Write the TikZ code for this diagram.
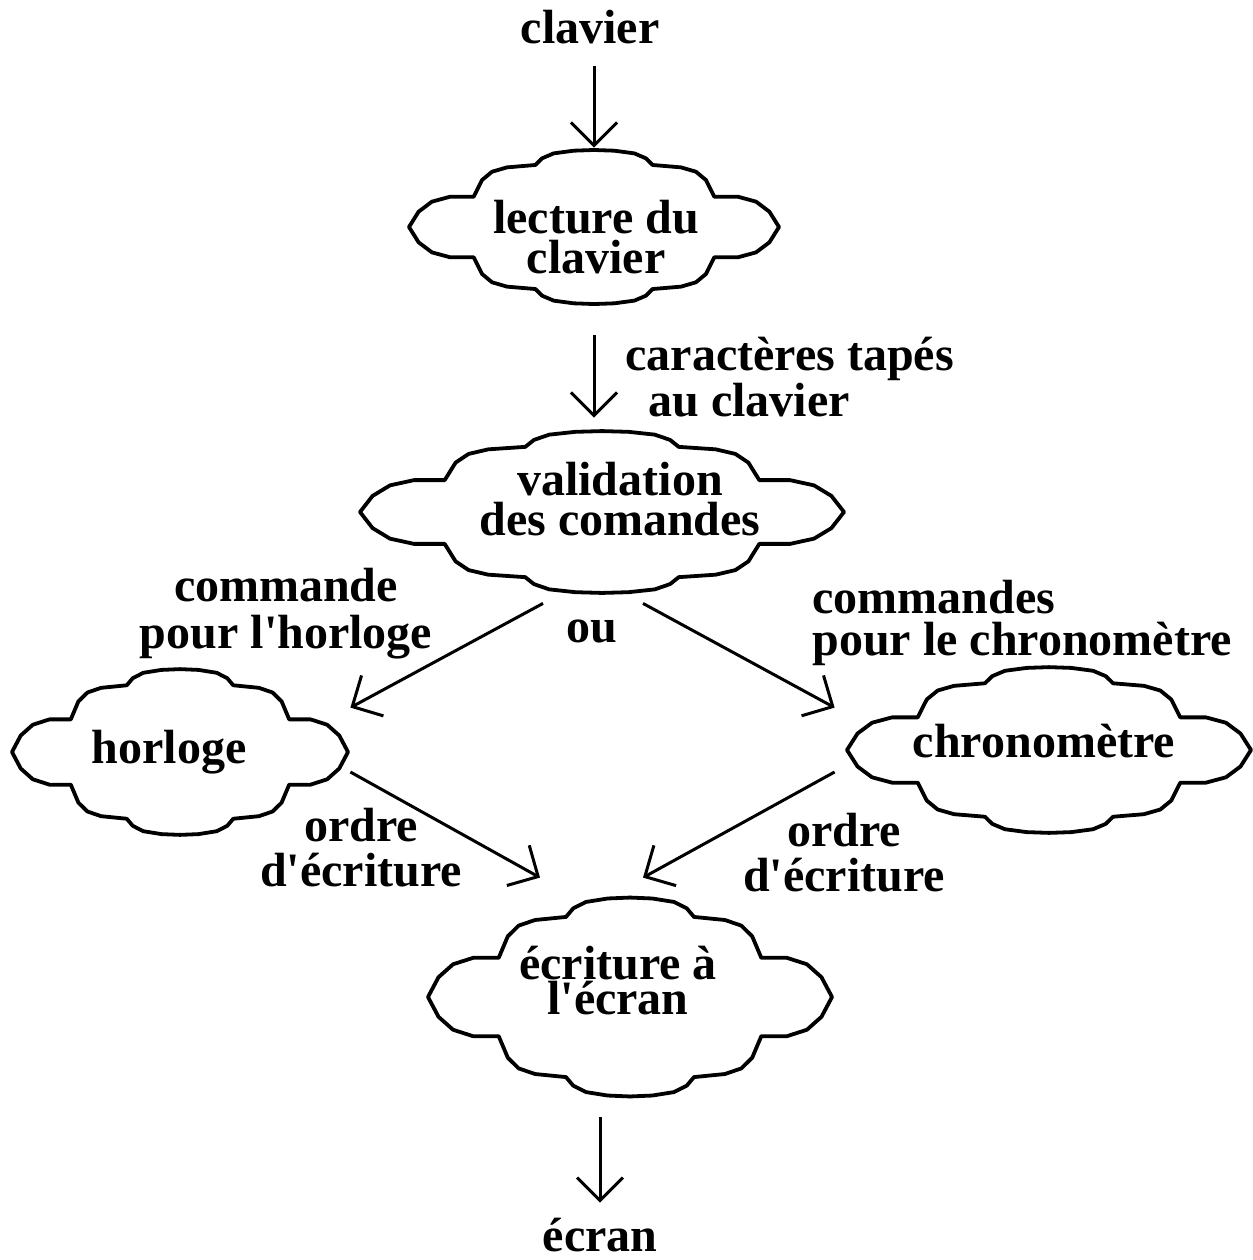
\documentclass[tikz,border=0pt]{standalone}
\usepackage{fontspec}
\setmainfont{Liberation Serif}[Ligatures=TeXOff]
\usetikzlibrary{arrows.meta}

% nuage : nom, x, y, demi-largeur, demi-hauteur, decalage du texte, texte
\newcommand{\nuage}[7]{%
  \node[boite, minimum width=#4pt, minimum height=#5pt] (#1) at (#2,#3) {};
  \foreach \sx/\sy in {1/1,-1/1,1/-1,-1/-1}
    \draw[contour, shift={(#2,#3)}, xscale={(\sx)*#4}, yscale={-(\sy)*#5}]
      plot coordinates {(-1,0) (-0.948,0.194) (-0.876,0.321) (-0.777,0.384)
        (-0.650,0.384) (-0.605,0.595) (-0.551,0.700) (-0.470,0.755)
        (-0.317,0.785) (-0.281,0.869) (-0.218,0.932) (-0.110,0.966) (0,0.975)};
  \node[texte] (#1-t) at ([shift={(#6)}]#1.center) {#7};
}

\begin{document}
\begin{tikzpicture}[x=0.5pt, y=-0.5pt, >={Straight Barb[length=11.5pt,width=23pt]},
    font=\bfseries\fontsize{24}{20}\selectfont]
    \tikzset{boite/.style={rectangle, inner sep=0pt},
             texte/.style={align=center, inner sep=0pt},
             contour/.style={line width=1.9pt, line join=round, line cap=round},
             fleche/.style={->, line width=1.5pt}}
    \useasboundingbox (0,0) rectangle (1253,1260);

    \node[texte] (clavier) at (590,27) {clavier};
    \nuage{lecture}{594}{227}{185}{79}{2,10}{lecture du\\clavier}
    \nuage{validation}{602}{512}{242}{83}{18,-13}{validation\\des comandes}
    \nuage{horloge}{180}{752}{168}{85}{-11,0}{horloge}
    \nuage{chrono}{1049}{750}{202}{85}{-5,-9}{chronomètre}
    \nuage{ecriture}{630}{997}{202}{102}{-12,-16}{écriture à\\[-2.5pt]l'écran}
    \node[texte] (ecran) at (600,1235) {écran};

    % etiquettes des fleches
    \node[texte, align=left, anchor=north west] (tapes) at (625,337)
        {caractères tapés\\\hspace*{11.5pt}au clavier};
    \node[texte] (cmd-horloge) at (286,614) {commande\\[3.5pt]pour l'horloge};
    \node[texte] (ou) at (592,631) {ou};
    \node[texte, align=left, anchor=north west] (cmd-chrono) at (812,580)
        {commandes\\[1pt]pour le chronomètre};
    \node[texte] (ordre-h) at (361,848) {ordre\\[2.5pt]d'écriture};
    \node[texte] (ordre-c) at (844,853) {ordre\\[2.5pt]d'écriture};

    \path[fleche]
      (lecture.north |- clavier.south) edge [shorten <=11pt] (lecture.north)
      (lecture.south) edge [shorten <=14.5pt, shorten >=5.5pt] (lecture.south |- validation.north)
      ([shift={(-59,8)}]validation.south) edge ([shift={(2,41)}]horloge.north east)
      ([shift={(41,8)}]validation.south)  edge ([shift={(-12,43)}]chrono.north west)
      ([shift={(2,20)}]horloge.east)      edge ([shift={(-90,-17)}]ecriture.north)
      ([shift={(-12,22)}]chrono.west)     edge ([shift={(13,-17)}]ecriture.north)
      (ecran.north |- ecriture.south) edge [shorten <=9pt, shorten >=7.5pt] (ecran.north);
\end{tikzpicture}
\end{document}
